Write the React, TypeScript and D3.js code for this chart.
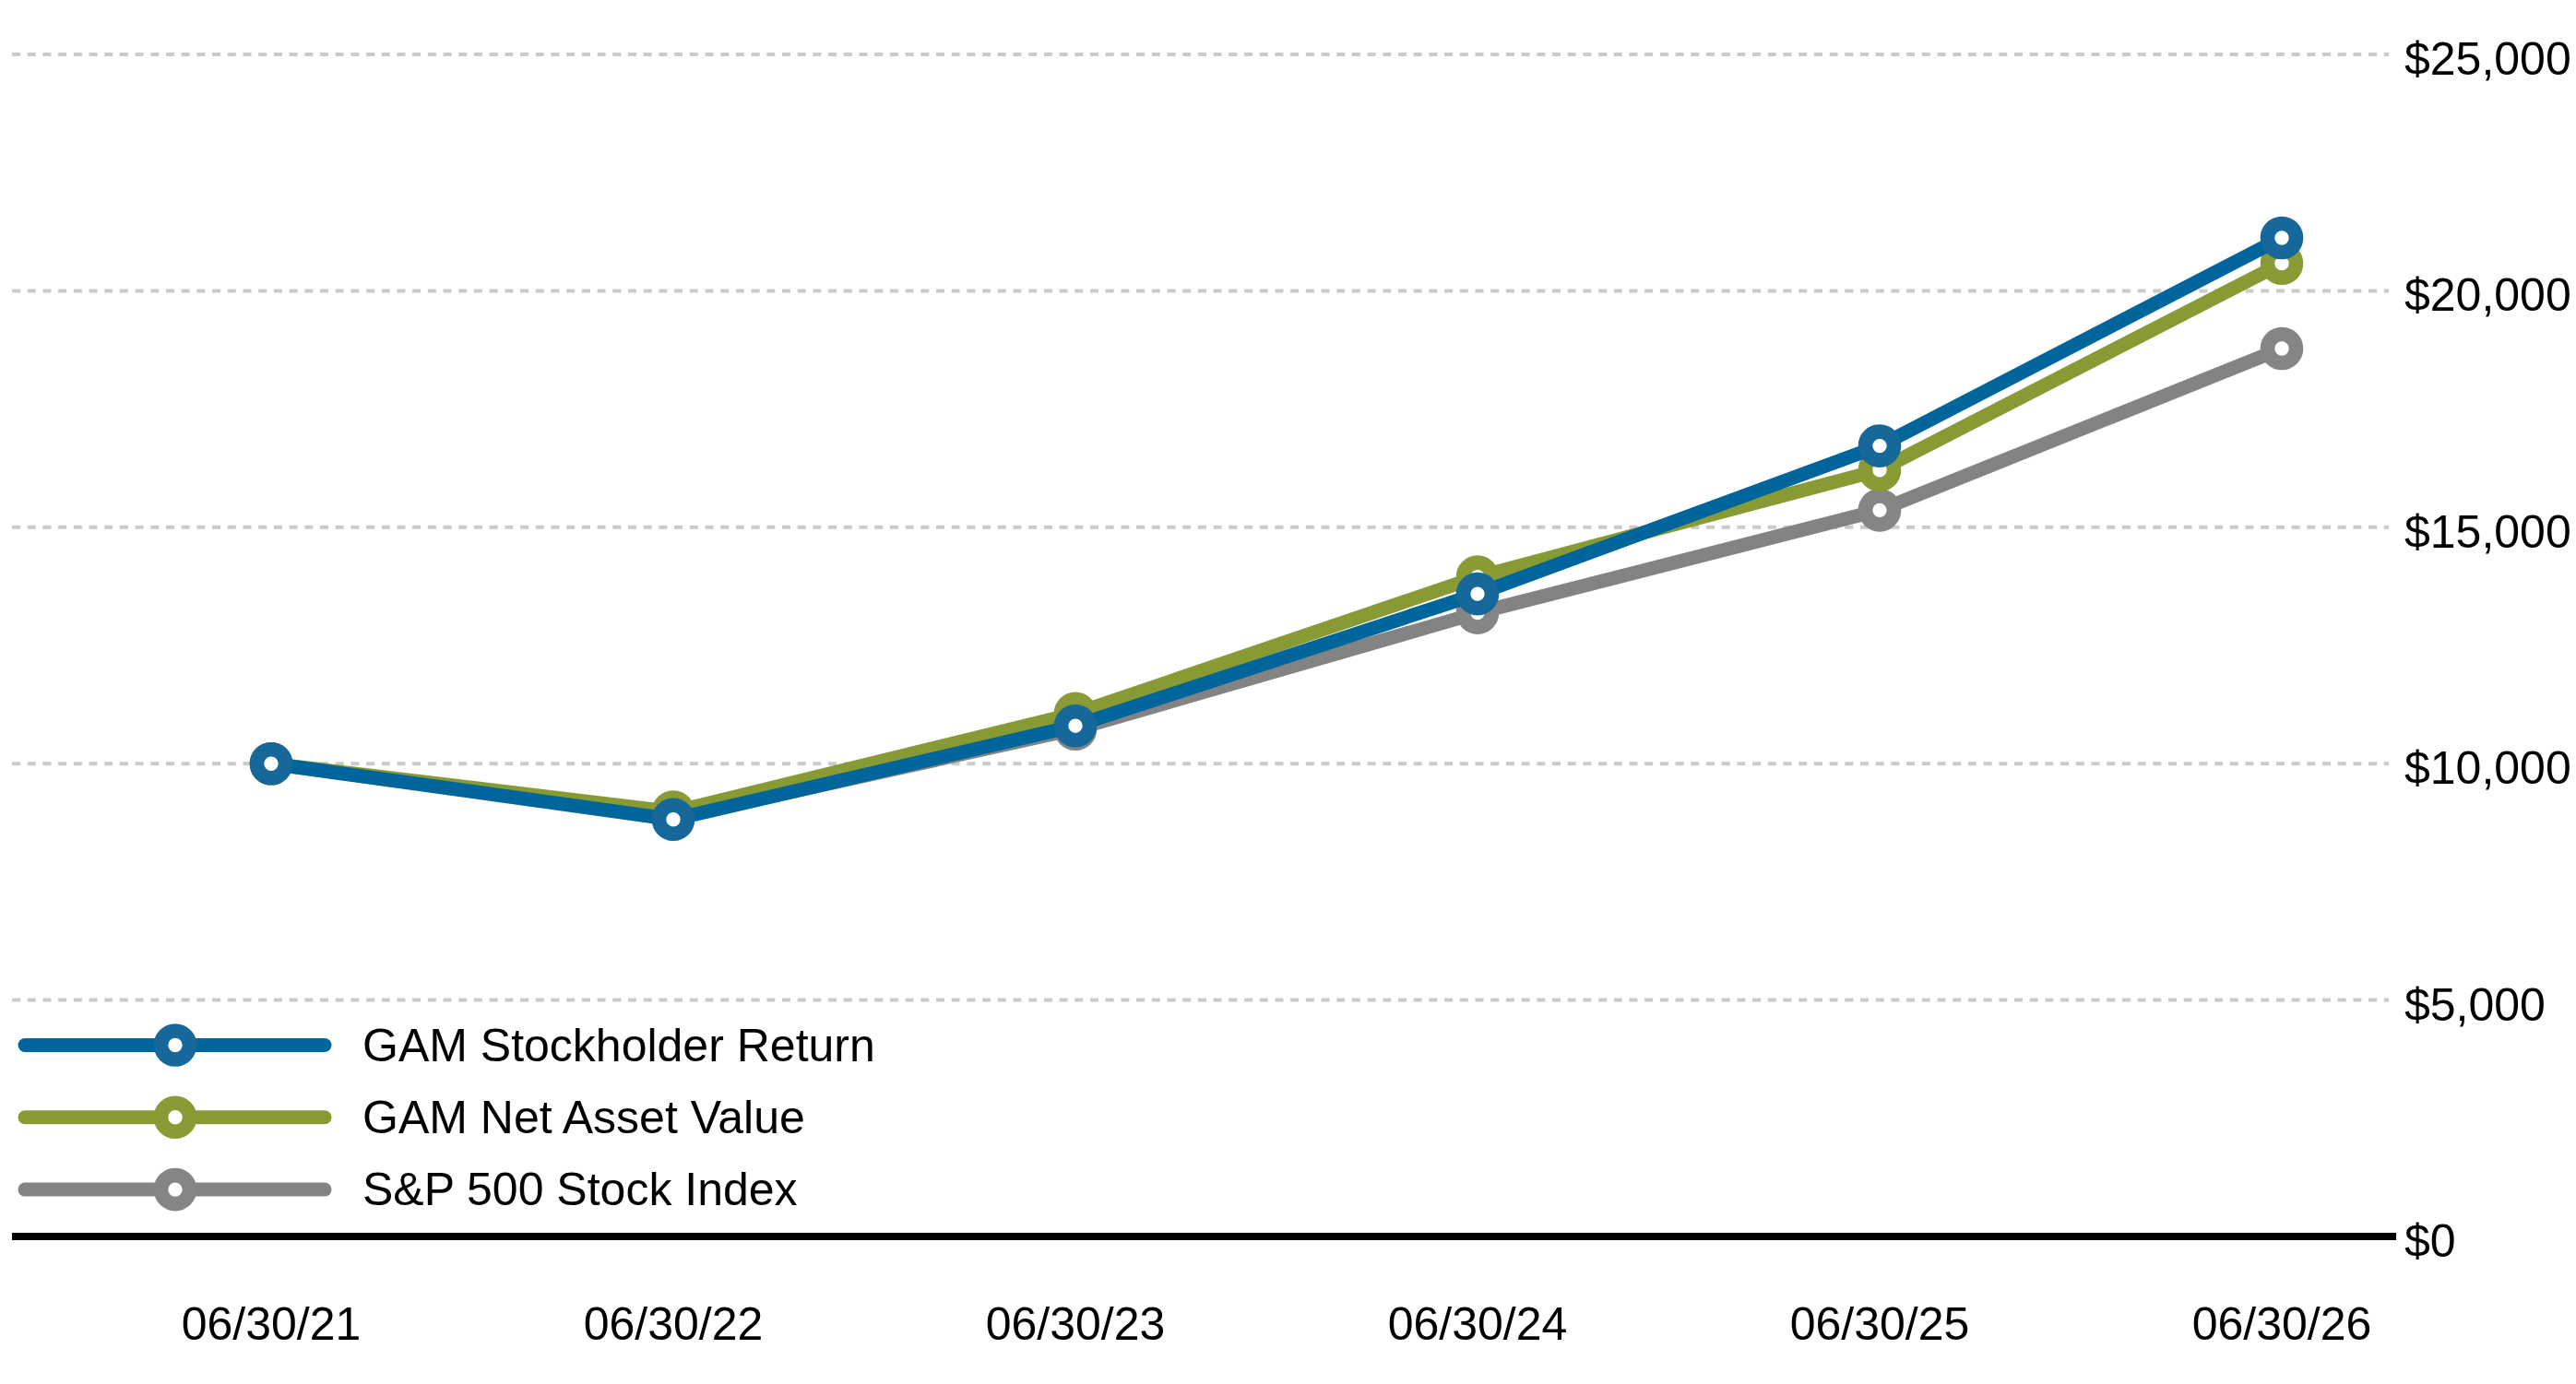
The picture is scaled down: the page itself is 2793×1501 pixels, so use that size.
import React from "react";
import * as d3 from "d3";

const categories = ["06/30/21", "06/30/22", "06/30/23", "06/30/24", "06/30/25", "06/30/26"];
const stockholderReturn = [10000, 8820, 10800, 13590, 16720, 21120];
const netAssetValue = [10000, 8980, 11060, 13950, 16210, 20580];
const sp500Index = [10000, 8850, 10730, 13190, 15360, 18780];
const yTicks = [0, 5000, 10000, 15000, 20000, 25000];
const seriesNames = ["GAM Stockholder Return", "GAM Net Asset Value", "S&P 500 Stock Index"];

const W = 2793;
const H = 1501;
const FONT = "'Liberation Sans', Arial, Helvetica, sans-serif";

const series = [
  { name: seriesNames[2], values: sp500Index, line: "#838383", marker: "#858585" },
  { name: seriesNames[1], values: netAssetValue, line: "#879a33", marker: "#889b35" },
  { name: seriesNames[0], values: stockholderReturn, line: "#00659a", marker: "#16689a" },
];
const legendOrder = [series[2], series[1], series[0]];

export default function App() {
  const x = d3.scalePoint<string>().domain(categories).range([294, 2474]).padding(0);
  const y = d3.scaleLinear().domain([0, 25000]).range([1341, 59]);
  const fmt = (v: number) => "$" + d3.format(",")(v);

  const lineGen = d3
    .line<number>()
    .x((_, i) => x(categories[i]) as number)
    .y((d) => y(d));

  const R = 15.5;
  const SW = 15.6;

  return (
    <svg
      width={W}
      height={H}
      style={{ position: "absolute", left: 0, top: 0, background: "#fff" }}
      fontFamily={FONT}
    >
      <rect x={0} y={0} width={W} height={H} fill="#fff" />
      {/* gridlines */}
      {yTicks
        .filter((t) => t > 0)
        .map((t) => (
          <line
            key={"g" + t}
            x1={13}
            x2={2590}
            y1={y(t)}
            y2={y(t)}
            stroke="#cacaca"
            strokeWidth={4}
            strokeDasharray="9 7.7"
          />
        ))}
      {/* y labels */}
      {yTicks.map((t) => (
        <text key={"yl" + t} x={2607} y={y(t) + 22} fontSize={50} fill="#000">
          {fmt(t)}
        </text>
      ))}
      {/* x axis */}
      <line x1={13} x2={2598} y1={y(0)} y2={y(0)} stroke="#000" strokeWidth={8} />
      {categories.map((c) => (
        <text key={"xl" + c} x={x(c) as number} y={1453} fontSize={50} textAnchor="middle" fill="#000">
          {c}
        </text>
      ))}
      {/* series */}
      {series.map((s) => (
        <g key={s.name}>
          <path d={lineGen(s.values) as string} fill="none" stroke={s.line} strokeWidth={15} strokeLinejoin="round" />
          {s.values.map((v, i) => (
            <circle
              key={i}
              cx={x(categories[i]) as number}
              cy={y(v)}
              r={R}
              fill="#fff"
              stroke={s.marker}
              strokeWidth={SW}
            />
          ))}
        </g>
      ))}
      {/* legend */}
      {legendOrder.map((s, i) => {
        const cy = 1133.5 + i * 78.3;
        return (
          <g key={"lg" + s.name}>
            <line x1={27} x2={352} y1={cy} y2={cy} stroke={s.line} strokeWidth={15} strokeLinecap="round" />
            <circle cx={190} cy={cy} r={R} fill="#fff" stroke={s.marker} strokeWidth={SW} />
            <text x={393} y={cy + 17} fontSize={50} fill="#000">
              {s.name}
            </text>
          </g>
        );
      })}
    </svg>
  );
}
